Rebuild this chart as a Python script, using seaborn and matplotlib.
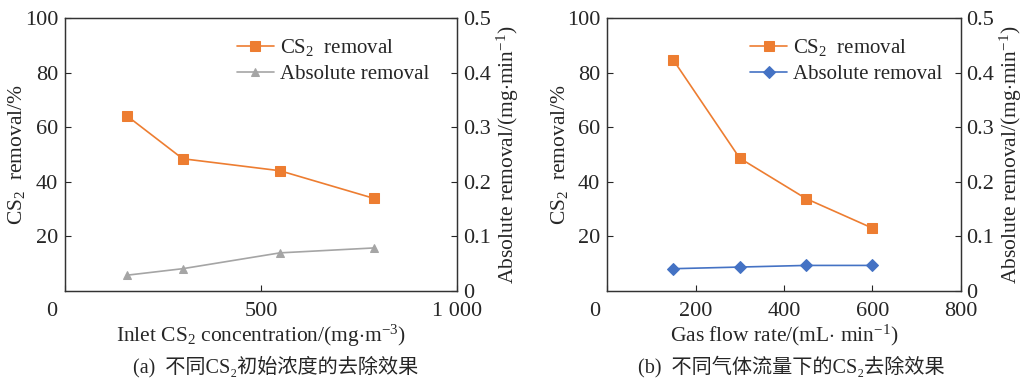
import matplotlib
matplotlib.use("Agg")
import matplotlib.pyplot as plt
import matplotlib.transforms as mtransforms
import seaborn as sns
import pandas as pd

# ---- data ----
conc_x = [157, 300, 548, 787]
conc_removal = [64.3, 48.5, 44.1, 34.0]
conc_abs = [0.029, 0.041, 0.070, 0.079]

flow_x = [150, 300, 450, 600]
flow_removal = [84.6, 48.7, 33.9, 23.1]
flow_abs = [0.041, 0.044, 0.047, 0.047]

left_yticks = [20, 40, 60, 80, 100]
right_yticks = [0, 0.1, 0.2, 0.3, 0.4, 0.5]
right_yticklabels = ["0", "0.1", "0.2", "0.3", "0.4", "0.5"]
a_xticks = [0, 500, 1000]
a_xticklabels = ["0", "500", "1 000"]
b_xticks = [0, 200, 400, 600, 800]
b_xticklabels = ["0", "200", "400", "600", "800"]

captions = ["(a)  不同CS₂初始浓度的去除效果", "(b)  不同气体流量下的CS₂去除效果"]
xlabels = [r"Inlet CS$_2$ concentration/(mg$\cdot$m$^{-3}$)", r"Gas flow rate/(mL$\cdot$ min$^{-1}$)"]

sns.set_style("ticks")
plt.rcParams["font.family"] = ["Liberation Serif", "Noto Sans CJK SC"]
plt.rcParams["mathtext.fontset"] = "custom"
plt.rcParams["mathtext.rm"] = "Liberation Serif"
plt.rcParams["mathtext.it"] = "Liberation Serif:italic"
plt.rcParams["mathtext.bf"] = "Liberation Serif:bold"

TICK_FS = 16
LAB_FS = 15.5
LEG_FS = 15
CAP_FS = 14.5

ORANGE = "#ED7D31"
GREY = "#A5A5A5"
BLUE = "#4472C4"

fig = plt.figure(figsize=(10.24, 3.79), dpi=100)
ax_a = fig.add_axes([0.0635, 0.232, 0.383, 0.720])
ax_b = fig.add_axes([0.593, 0.232, 0.345, 0.720])

def panel(ax, x, rem, absv, abs_color, abs_marker, abs_ms, xlim, xticks, xticklabels, xlabel, legx):
    df = pd.DataFrame({"x": x, "rem": rem, "abs": absv})
    tw = ax.twinx()
    sns.lineplot(data=df, x="x", y="rem", ax=ax, color=ORANGE, marker="s",
                 markersize=7, markeredgecolor=ORANGE, linewidth=1.2, label=r"CS$_2$  removal", legend=False)
    sns.lineplot(data=df, x="x", y="abs", ax=tw, color=abs_color, marker=abs_marker,
                 markersize=abs_ms, markeredgecolor=abs_color, linewidth=1.2, label="Absolute removal", legend=False)
    ax.set_xlim(*xlim)
    ax.set_ylim(0, 100)
    tw.set_ylim(0, 0.5)
    ax.set_yticks(left_yticks)
    tw.set_yticks(right_yticks)
    tw.set_yticklabels(right_yticklabels)
    ax.set_xticks(xticks)
    ax.set_xticklabels(xticklabels)
    ax.tick_params(axis="x", direction="in", length=4, width=0.8, labelsize=TICK_FS, pad=8)
    ax.tick_params(axis="y", direction="in", length=4, width=0.8, labelsize=TICK_FS, pad=5)
    tw.tick_params(axis="y", direction="in", length=4, width=0.8, labelsize=TICK_FS, pad=4)
    ax.set_xlabel(xlabel, fontsize=LAB_FS, labelpad=1)
    ax.set_ylabel(r"CS$_2$  removal/%", fontsize=LAB_FS, labelpad=-2)
    tw.set_ylabel(r"Absolute removal/(mg$\cdot$min$^{-1}$)", fontsize=LAB_FS, labelpad=3)
    for a in (ax, tw):
        for s in a.spines.values():
            s.set_linewidth(0.9)
            s.set_color("#333333")
    h1, l1 = ax.get_legend_handles_labels()
    h2, l2 = tw.get_legend_handles_labels()
    tw.legend(h1 + h2, l1 + l2, loc="upper left", bbox_to_anchor=(legx, 0.93),
              frameon=False, borderaxespad=0, borderpad=0, handlelength=1.75,
              handletextpad=0.3, labelspacing=0.3, fontsize=LEG_FS)
    # first x tick label shifted left like the reference
    lbl0 = ax.get_xticklabels()[0]
    lbl0.set_transform(lbl0.get_transform() + mtransforms.ScaledTranslation(-13 / 100, 0, fig.dpi_scale_trans))
    return tw

panel(ax_a, conc_x, conc_removal, conc_abs, GREY, "^", 6, (0, 1000), a_xticks, a_xticklabels, xlabels[0], 0.439)
panel(ax_b, flow_x, flow_removal, flow_abs, BLUE, "D", 6, (0, 800), b_xticks, b_xticklabels, xlabels[1], 0.405)

fig.text(0.269, 0.032, captions[0], ha="center", va="center", fontsize=CAP_FS)
fig.text(0.773, 0.032, captions[1], ha="center", va="center", fontsize=CAP_FS)

fig.savefig("out.png", dpi=100)
